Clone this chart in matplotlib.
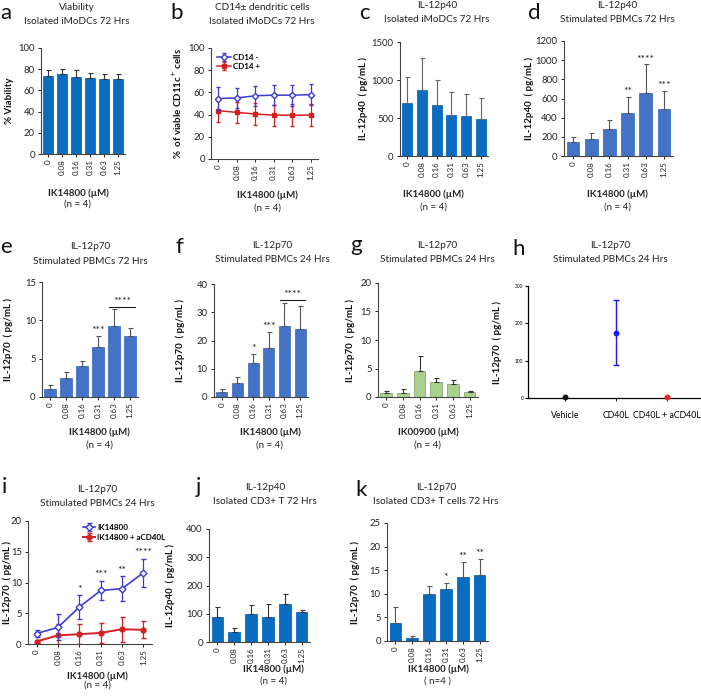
import matplotlib
matplotlib.use("Agg")
import matplotlib.pyplot as plt
import numpy as np

plt.rcParams['font.family'] = ['Lato', 'DejaVu Sans']

W, H = 701, 696
fig = plt.figure(figsize=(W / 100, H / 100), dpi=100)

conc = ["0", "0.08", "0.16", "0.31", "0.63", "1.25"]

# data
a_vals = [74, 75.5, 73, 71.5, 70.5, 70.5]
a_err = [5.5, 5, 6.5, 5, 4.5, 4.5]
b_neg = [54.5, 55, 57, 57.5, 57.5, 58]
b_neg_err = [10, 9, 9, 9, 9.5, 9.5]
b_pos = [43.5, 42, 40.5, 39.5, 39.5, 39.5]
b_pos_err = [10, 9.5, 10, 9.5, 10, 10]
c_vals = [700, 870, 670, 545, 530, 490]
c_err = [340, 415, 335, 295, 285, 270]
d_vals = [150, 180, 280, 445, 655, 495]
d_err = [50, 65, 100, 175, 300, 185]
d_stars = ["", "", "", "**", "****", "***"]
e_vals = [1.1, 2.5, 4.0, 6.55, 9.2, 7.95]
e_err = [0.45, 0.8, 0.7, 1.4, 2.25, 1.05]
f_vals = [1.7, 5.1, 12.2, 17.3, 25.2, 24.0]
f_err = [1.3, 1.9, 3.0, 5.7, 8.0, 8.2]
g_vals = [0.7, 0.75, 4.5, 2.55, 2.2, 0.8]
g_err = [0.3, 0.65, 2.7, 0.85, 0.8, 0.3]
h_groups = ["Vehicle", "CD40L", "CD40L + aCD40L"]
h_vals = [2, 175, 2]
h_err = [0, 87, 0]
i_ik = [1.7, 2.7, 6.0, 8.7, 9.0, 11.6]
i_ik_err = [0.5, 2.1, 1.9, 1.6, 2.0, 2.3]
i_cd = [0.4, 1.4, 1.6, 1.8, 2.4, 2.3]
i_cd_err = [0.2, 1.9, 1.6, 1.6, 2.0, 1.4]
i_stars = ["", "", "*", "***", "**", "****"]
j_vals = [87, 35, 100, 90, 135, 107]
j_err = [36, 15, 30, 43, 35, 8]
k_vals = [3.9, 0.6, 10.0, 11.0, 13.5, 13.9]
k_err = [3.4, 0.5, 1.6, 1.3, 3.3, 3.4]
k_stars = ["", "", "", "*", "**", "**"]

BLUE1 = "#0a6cc0"
BLUE2 = "#4472c4"
GREEN = "#a9d18e"

YTS = 6.8   # y tick size
XTS = 5.8   # x tick size
LS = 7.0    # axis label size
TTS = 7.2   # title size
LETTER = 16


def ax_at(x0, y0, x1, y1):
    return fig.add_axes([x0 / W, 1 - y1 / H, (x1 - x0) / W, (y1 - y0) / H])


def ftext(x, y, s, **kw):
    fig.text(x / W, 1 - y / H, s, **kw)


def style(ax, ylim, yticks, ylabel, box, lab_x):
    x0, y0, x1, y1 = box
    for sp in ["top", "right"]:
        ax.spines[sp].set_visible(False)
    for sp in ["left", "bottom"]:
        ax.spines[sp].set_color("#444444")
        ax.spines[sp].set_linewidth(0.8)
    ax.set_ylim(*ylim)
    ax.set_yticks(yticks)
    ax.tick_params(axis="y", labelsize=YTS, length=2.5, width=0.7, colors="#222222", pad=2)
    ax.tick_params(axis="x", labelsize=XTS, length=2, width=0.7, colors="#222222", pad=2)
    ax.set_ylabel(ylabel, fontsize=LS, fontweight="bold", color="#111111")
    ax.yaxis.label.set_va("center")
    ax.yaxis.set_label_coords((lab_x - x0) / (x1 - x0), 0.5)


def cat_x(ax):
    ax.set_xlim(-0.5, 5.5)
    ax.set_xticks(range(6))
    ax.set_xticklabels(conc, rotation=90)


def bars(ax, vals, err, color, ecolor="#333333", edge=None):
    x = np.arange(len(vals))
    ax.bar(x, vals, width=0.7, color=color, edgecolor=edge if edge else color, linewidth=0.6,
           yerr=[np.zeros(len(vals)), err], ecolor=ecolor,
           error_kw=dict(elinewidth=0.8, capsize=1.8, capthick=0.8), zorder=2)


def stars(ax, vals, err, s_list, off):
    for xi, (v, e, s) in enumerate(zip(vals, err, s_list)):
        if s:
            ax.text(xi, v + e + off, s, ha="center", va="bottom", fontsize=7.5, color="#222222")


def panel_title(x, y, t1, t2, letter=None, lx=None, ly=None):
    ftext(x, y, t1, ha="center", va="center", fontsize=TTS, color="#222222")
    ftext(x, y + 14, t2, ha="center", va="center", fontsize=TTS, color="#222222")
    if letter:
        ftext(lx, ly, letter, ha="left", va="baseline", fontsize=LETTER, color="#111111")


def xlab(x, y, name="IK14800 (\u00b5M)", n="(n = 4)", gap=13):
    ftext(x, y, name, ha="center", va="center", fontsize=LS, fontweight="bold", color="#222222")
    ftext(x, y + gap, n, ha="center", va="center", fontsize=LS, color="#222222")


# ---- a
box = (41, 48, 125, 154)
ax = ax_at(*box)
bars(ax, a_vals, a_err, BLUE1)
style(ax, (0, 100), range(0, 101, 20), "% Viability", box, 10)
cat_x(ax)
panel_title(77, 8, "Viability", "Isolated iMoDCs 72 Hrs", "a", 0, 19)
xlab(78, 193, gap=11)

# ---- b
box = (211, 48, 318, 159)
ax = ax_at(*box)
x = np.arange(6)
ax.errorbar(x, b_neg, yerr=b_neg_err, color="#3b3bd0", marker="D", ms=3.2, mfc="white",
            mec="#3b3bd0", lw=1.1, elinewidth=0.9, capsize=1.5, label="CD14 -", zorder=3)
ax.errorbar(x, b_pos, yerr=b_pos_err, color="#d42020", marker="s", ms=2.6, lw=1.1,
            elinewidth=0.9, capsize=1.5, label="CD14 +", zorder=2)
style(ax, (0, 100), range(0, 101, 20), "%  of viable CD11c$^{+}$ cells", box, 177)
ax.set_xlim(-0.4, 5.4)
ax.set_xticks(range(6))
ax.set_xticklabels(conc, rotation=90)
leg = ax.legend(loc="upper left", fontsize=5.8, frameon=False, handlelength=1.8,
                borderaxespad=0.3, handletextpad=0.2, labelspacing=0.3)
for t in leg.get_texts():
    t.set_fontweight("bold")
panel_title(262, 8, "CD14\u00b1 dendritic cells", "Isolated iMoDCs 72 Hrs", "b", 170, 19)
xlab(267, 195)

# ---- c
box = (400, 42, 488, 156)
ax = ax_at(*box)
bars(ax, c_vals, c_err, BLUE1, ecolor="#666666")
style(ax, (0, 1500), range(0, 1501, 500), "IL-12p40  ( pg/mL )", box, 363)
cat_x(ax)
panel_title(437, 6, "IL-12p40", "Isolated iMoDCs 72 Hrs", "c", 359, 19)
xlab(433, 194)

# ---- d
box = (564, 41, 673, 156)
ax = ax_at(*box)
bars(ax, d_vals, d_err, BLUE2, ecolor="#555555")
style(ax, (0, 1200), range(0, 1201, 200), "IL-12p40  ( pg/mL )", box, 529)
cat_x(ax)
stars(ax, d_vals, d_err, d_stars, 5)
panel_title(617, 5, "IL-12p40", "Stimulated PBMCs 72 Hrs", "d", 528, 19)
xlab(617, 194)

# ---- e
box = (42, 282, 138, 397)
ax = ax_at(*box)
bars(ax, e_vals, e_err, BLUE2, ecolor="#555555")
style(ax, (0, 15), range(0, 16, 5), "IL-12p70  ( pg/mL )", box, 8)
cat_x(ax)
stars(ax, e_vals, e_err, ["", "", "", "***", "", ""], 0.2)
ax.plot([3.7, 5.3], [11.8, 11.8], color="#222222", lw=0.8, clip_on=False)
ax.text(4.5, 11.9, "****", ha="center", va="bottom", fontsize=7.5, color="#222222")
panel_title(90, 247, "IL-12p70", "Stimulated PBMCs 72 Hrs", "e", 0, 253)
xlab(99, 432)

# ---- f
box = (214, 284, 308, 397)
ax = ax_at(*box)
bars(ax, f_vals, f_err, BLUE2, ecolor="#555555")
style(ax, (0, 40), range(0, 41, 10), "IL-12p70  ( pg/mL )", box, 180)
cat_x(ax)
stars(ax, f_vals, f_err, ["", "", "*", "***", "", ""], 0.5)
ax.plot([3.7, 5.3], [34.5, 34.5], color="#222222", lw=0.8, clip_on=False)
ax.text(4.5, 34.7, "****", ha="center", va="bottom", fontsize=7.5, color="#222222")
panel_title(272, 245, "IL-12p70", "Stimulated PBMCs 24 Hrs", "f", 175, 253)
xlab(270, 432)

# ---- g
box = (378, 283, 478, 397)
ax = ax_at(*box)
bars(ax, g_vals, g_err, GREEN, ecolor="#333333", edge="#8aaa70")
style(ax, (0, 20), range(0, 21, 5), "IL-12p70  ( pg/mL )", box, 350)
cat_x(ax)
panel_title(437, 245, "IL-12p70", "Stimulated PBMCs 24 Hrs", "g", 350, 251)
xlab(428, 432, name="IK00900 (\u00b5M)")

# ---- h
box = (528, 286, 700, 398)
ax = ax_at(*box)
hcol = ["#111111", "#1a1aff", "#ff1a1a"]
for xi, (v, e, c) in enumerate(zip(h_vals, h_err, hcol)):
    ax.errorbar([xi], [v], yerr=[e] if e else None, fmt="o", color=c, ms=3.2,
                elinewidth=1.0, capsize=2.5, capthick=1.0, clip_on=False, zorder=3)
for sp in ["top", "right"]:
    ax.spines[sp].set_visible(False)
ax.spines["left"].set_linewidth(0.9)
ax.spines["bottom"].set_linewidth(0.9)
ax.set_ylim(0, 300)
ax.set_yticks([0, 100, 200, 300])
ax.set_xlim(-0.72, 2.65)
ax.set_xticks(range(3))
ax.set_xticklabels(h_groups)
ax.tick_params(axis="y", labelsize=3.5, length=2.5, width=0.8, pad=1)
ax.tick_params(axis="x", labelsize=6.3, length=2, width=0.6, pad=7)
ax.set_ylabel("IL-12p70  ( pg/mL )", fontsize=LS, fontweight="bold", color="#111111")
ax.yaxis.label.set_va("center")
ax.yaxis.set_label_coords((497 - box[0]) / (box[2] - box[0]), 0.5)
panel_title(610, 245, "IL-12p70", "Stimulated PBMCs 24 Hrs", "h", 512, 255)

# ---- i
box = (28, 521, 152, 644)
ax = ax_at(*box)
x = np.arange(6)
ax.errorbar(x, i_ik, yerr=i_ik_err, color="#3b3bd0", marker="D", ms=3.5, mfc="white",
            mec="#3b3bd0", lw=1.2, elinewidth=0.9, capsize=1.8, label="IK14800", zorder=3)
ax.errorbar(x, i_cd, yerr=i_cd_err, color="#d42020", marker="o", ms=3.5, lw=1.4,
            elinewidth=0.9, capsize=1.8, label="IK14800 + aCD40L", zorder=2)
style(ax, (0, 20), range(0, 21, 5), "IL-12p70  ( pg/mL )", box, 7)
ax.set_xlim(-0.4, 5.4)
ax.set_xticks(range(6))
ax.set_xticklabels(conc, rotation=90)
for xi, (v, e, s) in enumerate(zip(i_ik, i_ik_err, i_stars)):
    if s:
        ax.text(xi, v + e + 0.3, s, ha="center", va="bottom", fontsize=7.5, color="#222222")
leg = ax.legend(loc="upper left", fontsize=5.8, frameon=False, handlelength=1.5,
                borderaxespad=0.0, handletextpad=0.2, labelspacing=0.35,
                bbox_to_anchor=(0.42, 1.0))
for t in leg.get_texts():
    t.set_fontweight("bold")
panel_title(97, 490, "IL-12p70", "Stimulated PBMCs 24 Hrs", "i", 2, 493)
xlab(97, 676, gap=9)

# ---- j
box = (209, 529, 310, 642)
ax = ax_at(*box)
bars(ax, j_vals, j_err, BLUE1, ecolor="#333333")
style(ax, (0, 400), range(0, 401, 100), "IL-12p40  ( pg/mL )", box, 170)
cat_x(ax)
panel_title(265, 488, "IL-12p40", "Isolated CD3+ T 72 Hrs", "j", 196, 493)
xlab(273, 669, gap=12)

# ---- k
box = (387, 523, 488, 641)
ax = ax_at(*box)
bars(ax, k_vals, k_err, BLUE1, ecolor="#555555")
style(ax, (0, 25), range(0, 26, 5), "IL-12p70  ( pg/mL )", box, 355)
cat_x(ax)
stars(ax, k_vals, k_err, k_stars, 0.2)
panel_title(436, 488, "IL-12p70", "Isolated CD3+ T cells 72 Hrs", "k", 355, 496)
xlab(438, 669, n="( n=4 )", gap=12)

fig.savefig("out.png", dpi=100)
